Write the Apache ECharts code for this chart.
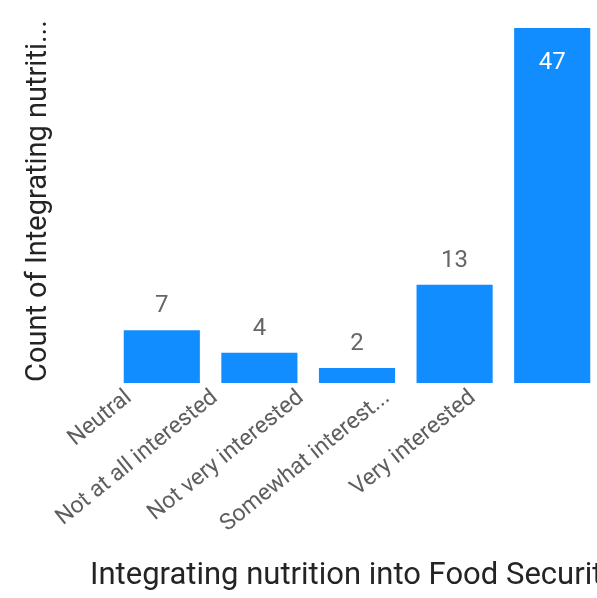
<!DOCTYPE html>
<html><head><meta charset="utf-8">
<script src="https://cdn.jsdelivr.net/npm/echarts@6/dist/echarts.min.js"></script>
<style>html,body{margin:0;padding:0;background:#fff}#c{width:597px;height:598px}</style>
</head><body><div id="c"></div>
<script>
const categories = ["Neutral", "Not at all interested", "Not very interested", "Somewhat interest...", "Very interested"];
const counts = [7, 4, 2, 13, 47];
const xTitle = "Integrating nutrition into Food Security";
const yTitle = "Count of Integrating nutriti...";

const chart = echarts.init(document.getElementById('c'), null, {renderer: 'canvas'});
const font = 'Roboto';
const maxVal = Math.max(...counts);
chart.setOption({
  animation: false,
  grid: [
    {left: 113, right: -4, top: 28, bottom: 215, outerBoundsMode: 'none', containLabel: false},
    {left: 86, width: 430, top: 28, bottom: 215, outerBoundsMode: 'none', containLabel: false}
  ],
  xAxis: [
    {type: 'category', gridIndex: 0, data: categories, axisLine: {show: false}, axisTick: {show: false}, axisLabel: {show: false}},
    {type: 'category', gridIndex: 1, data: categories, axisLine: {show: false}, axisTick: {show: false},
     axisLabel: {rotate: 39, margin: 12, fontSize: 23, color: '#605E5C', fontFamily: font, interval: 0}}
  ],
  yAxis: [
    {type: 'value', gridIndex: 0, min: 0, max: 47, show: false},
    {type: 'value', gridIndex: 1, min: 0, max: 47, show: false}
  ],
  series: [{
    type: 'bar', xAxisIndex: 0, yAxisIndex: 0,
    data: counts.map(v => v === maxVal
      ? {value: v, label: {position: 'insideTop', distance: 23, color: '#ffffff'}} : v),
    barCategoryGap: '22%',
    itemStyle: {color: '#118DFF'},
    label: {
      show: true, position: 'top', distance: 12, fontSize: 24, color: '#666666', fontFamily: font
    }
  }],
  graphic: [
    {type: 'text', left: 90, top: 561, style: {text: xTitle, fontSize: 31, fontFamily: font, fill: '#252423'}},
    {type: 'text', x: 24, y: 382, rotation: Math.PI / 2, style: {text: yTitle, fontSize: 29, fontFamily: font, fill: '#252423'}}
  ]
});
</script></body></html>
